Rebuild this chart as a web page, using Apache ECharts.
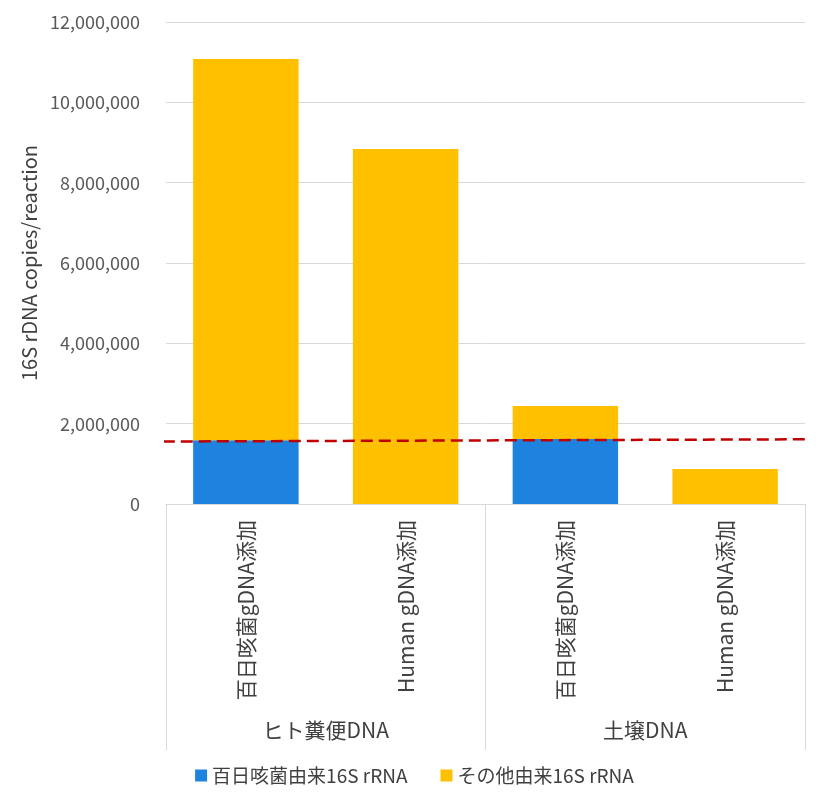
<!DOCTYPE html>
<html>
<head>
<meta charset="utf-8">
<script src="https://cdn.jsdelivr.net/npm/echarts@6/dist/echarts.min.js"></script>
<style>html,body{margin:0;padding:0;background:#fff}#c{width:829px;height:811px}</style>
</head>
<body>
<div id="c"></div>
<script>
const categories = ['百日咳菌gDNA添加', 'Human gDNA添加', '百日咳菌gDNA添加', 'Human gDNA添加'];
const groups = ['ヒト糞便DNA', '土壌DNA'];
const seriesNames = ['百日咳菌由来16S rRNA', 'その他由来16S rRNA'];
const pertussis = [1590000, 0, 1620000, 0];
const other = [9490000, 8840000, 820000, 870000];
const thresholdLine = [[-0.005, 1555000], [1.011, 1612000]];
const yTicks = { min: 0, max: 12000000, interval: 2000000 };

const FONT = '"Noto Sans CJK JP", "Noto Sans", sans-serif';
const chart = echarts.init(document.getElementById('c'));
chart.setOption({
  animation: false,
  textStyle: { fontFamily: FONT },
  grid: { left: 166, right: 24, top: 22, bottom: 307 },
  legend: {
    bottom: 21, left: 'center', itemWidth: 12, itemHeight: 12, itemGap: 33,
    icon: 'rect',
    textStyle: { fontSize: 19, color: '#404040', fontFamily: FONT },
    data: seriesNames
  },
  xAxis: [
    {
      type: 'category', data: categories, position: 'bottom',
      axisLine: { show: false }, axisTick: { show: false },
      axisLabel: { rotate: 90, margin: 16, fontSize: 21, color: '#404040', fontFamily: FONT }
    },
    {
      type: 'category', data: groups, position: 'bottom',
      axisLine: { show: true, lineStyle: { color: '#D9D9D9', width: 1 } },
      axisTick: { show: true, interval: 0, length: 246, lineStyle: { color: '#D9D9D9', width: 1 } },
      axisLabel: { margin: 216, fontSize: 21, color: '#404040', fontFamily: FONT }
    },
    { type: 'value', min: 0, max: 1, show: false }
  ],
  yAxis: {
    type: 'value', min: yTicks.min, max: yTicks.max, interval: yTicks.interval,
    name: '16S rDNA copies/reaction', nameLocation: 'middle', nameGap: 122,
    nameTextStyle: { fontSize: 20, color: '#404040', fontFamily: FONT },
    axisLine: { show: false }, axisTick: { show: false },
    axisLabel: { fontSize: 18, color: '#595959', margin: 26, fontFamily: FONT,
      formatter: v => v.toLocaleString('en-US') },
    splitLine: { lineStyle: { color: '#D9D9D9', width: 1 } }
  },
  series: [
    { name: seriesNames[0], type: 'bar', stack: 's', data: pertussis, barWidth: '66%',
      itemStyle: { color: '#1E83DE' } },
    { name: seriesNames[1], type: 'bar', stack: 's', data: other, barWidth: '66%',
      itemStyle: { color: '#FFC000' } },
    { name: 'threshold', type: 'line', xAxisIndex: 2, data: thresholdLine, symbol: 'none',
      clip: false, silent: true, z: 5,
      lineStyle: { color: '#C00000', width: 2.5, type: [12, 6] } }
  ]
});
</script>
</body>
</html>
